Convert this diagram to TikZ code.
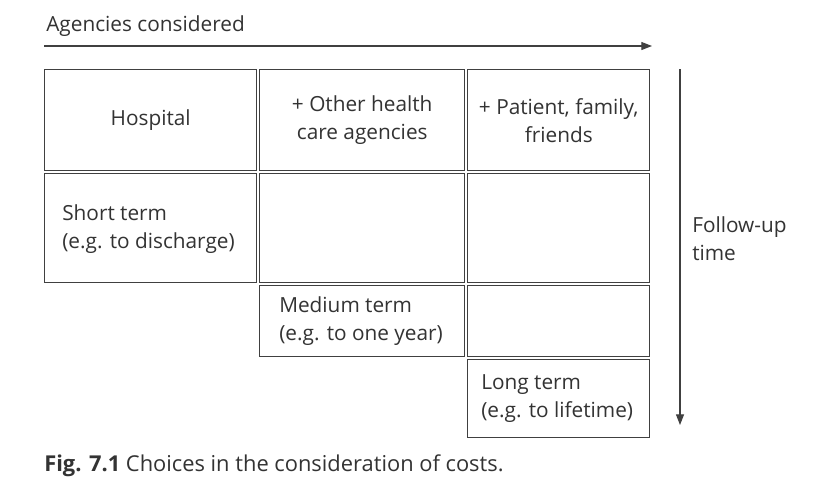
\documentclass[tikz,border=0pt]{standalone}
\usepackage{fontspec}
\setmainfont{Open Sans}
\usetikzlibrary{arrows.meta}
\definecolor{boxgray}{HTML}{404040}
\definecolor{textgray}{HTML}{333333}
\begin{document}
\begin{tikzpicture}[x=0.75pt,y=-0.75pt,
  txt/.style={text=textgray, font=\fontsize{15.6}{21}\selectfont, inner sep=0pt},
  cell/.style={txt, draw=boxgray, line width=1.1pt, anchor=north west, align=center},
  lbl/.style={txt, anchor=west, align=left},
  axis/.style={draw=boxgray, line width=0.8pt, -{Triangle[length=8pt,width=6pt]}}
 ]
\useasboundingbox[fill=white] (0,0) rectangle (816,494);
% header row
\node[cell, minimum width=159pt, minimum height=75.75pt] (hosp) at (44,69) {Hospital};
\node[cell, minimum width=153.75pt, minimum height=75.75pt] (other) at (259,69) {+ Other health\\care agencies};
\node[cell, minimum width=136.5pt, minimum height=75.75pt] (pat) at (467,69) {+ Patient, family,\\friends};
% row 2
\node[cell, minimum width=159pt, minimum height=81.75pt] (s1) at (44,173) {};
\node[cell, minimum width=153.75pt, minimum height=81.75pt] (s2) at (259,173) {};
\node[cell, minimum width=136.5pt, minimum height=81.75pt] (s3) at (467,173) {};
% row 3
\node[cell, minimum width=153.75pt, minimum height=53.25pt] (m2) at (259,285) {};
\node[cell, minimum width=136.5pt, minimum height=53.25pt] (m3) at (467,285) {};
% row 4
\node[cell, minimum width=136.5pt, minimum height=58.5pt] (l3) at (467,359) {};
% labels
\node[lbl] (tshort) at (62,229) {Short term\\(e.g. to discharge)};
\node[lbl] (tmed) at (279,321) {Medium term\\(e.g. to one year)};
\node[lbl] (tlong) at (481,399) {Long term\\(e.g. to lifetime)};
% axes
\node[txt, anchor=base west] (agen) at (46,31) {Agencies considered};
\coordinate (ha) at (44,46);
\coordinate (hb) at (652,46);
\draw[axis] (ha) -- (hb);
\coordinate (va) at (680,69);
\coordinate (vb) at (680,425);
\draw[axis] (va) -- (vb);
\node[lbl, anchor=north west] (fol) at (692,216) {Follow-up\\time};
% caption
\node[txt, anchor=base west, font=\fontsize{16.4}{19}\selectfont] (cap) at (44,471) {\textbf{Fig. 7.1} Choices in the consideration of costs.};
\end{tikzpicture}
\end{document}
